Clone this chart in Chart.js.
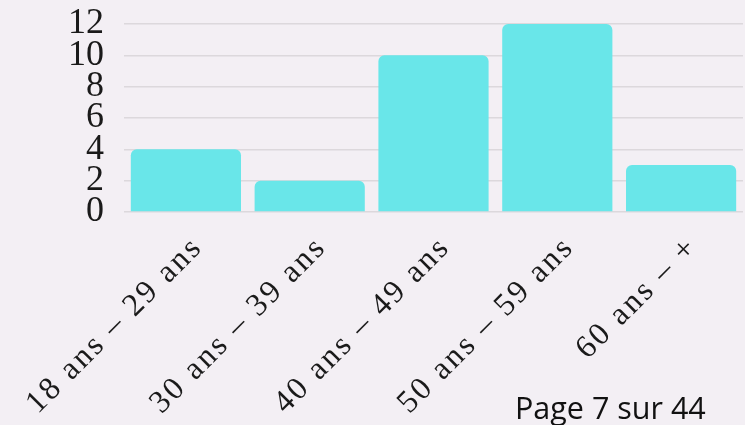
<!DOCTYPE html>
<html>
<head>
<meta charset="utf-8">
<script src="https://cdn.jsdelivr.net/npm/chart.js@4.4.1/dist/chart.umd.min.js"></script>
<style>
  html, body { margin: 0; padding: 0; background: #f3eff4; overflow: hidden; }
  #wrap { position: relative; width: 745px; height: 425px; overflow: hidden; }
  #ageChart { position: absolute; left: 0; top: 0; }
  #pageNum {
    position: absolute; left: 515px; top: 386px;
    font-family: "Open Sans", sans-serif; font-size: 30.5px; color: #111;
  }
</style>
</head>
<body>
<div id="wrap">
  <canvas id="ageChart" width="745" height="480"></canvas>
  <div id="pageNum">Page 7 sur 44</div>
</div>
<script>
// --- Données ---
const categories = ['18 ans – 29 ans', '30 ans – 39 ans', '40 ans – 49 ans', '50 ans – 59 ans', '60 ans – +'];
const values = [4, 2, 10, 12, 3];
const yTicks = [0, 2, 4, 6, 8, 10, 12];

// letter spacing only for the x labels
const spacedLabels = {
    id: 'spacedLabels',
    beforeDraw(chart) {
        const xs = chart.scales.x;
        if (!xs || xs._spaced) return;
        const orig = xs.drawLabels;
        xs.drawLabels = function (area) {
            chart.ctx.letterSpacing = '2.5px';
            orig.call(this, area);
            chart.ctx.letterSpacing = '0px';
        };
        xs._spaced = true;
    }
};

function noPad(scale) {
    scale.paddingTop = 0;
    scale.paddingBottom = 0;
    scale.paddingLeft = 0;
    scale.paddingRight = 0;
}

const ctx = document.getElementById('ageChart').getContext('2d');
const ageChart = new Chart(ctx, {
    type: 'bar',
    data: {
        labels: categories,
        datasets: [{
            data: values,
            backgroundColor: '#69e6e9',
            borderRadius: 6,
            barPercentage: 0.89,
            categoryPercentage: 1
        }]
    },
    plugins: [spacedLabels],
    options: {
        responsive: false,
        animation: false,
        layout: { padding: { top: 24, right: 2, left: 0, bottom: 0 } },
        plugins: { legend: { display: false }, tooltip: { enabled: false } },
        scales: {
            x: {
                grid: { display: false },
                border: { display: false },
                ticks: {
                    color: '#1a1a1a',
                    font: { family: '"Liberation Serif", serif', size: 32 },
                    minRotation: 45,
                    maxRotation: 45,
                    autoSkip: false,
                    labelOffset: 12,
                    padding: 9
                },
                afterFit(scale) { noPad(scale); scale.height = 268; }
            },
            y: {
                min: 0,
                max: 12,
                afterBuildTicks(scale) { scale.ticks = yTicks.map(v => ({ value: v })); },
                grid: { color: '#dcd8dc', drawTicks: false, lineWidth: 1.5 },
                border: { display: false },
                ticks: {
                    color: '#1a1a1a',
                    font: { family: '"Liberation Serif", serif', size: 36 },
                    autoSkip: false,
                    padding: 20
                },
                afterFit(scale) { noPad(scale); scale.width = 124; }
            }
        }
    }
});
</script>
</body>
</html>
